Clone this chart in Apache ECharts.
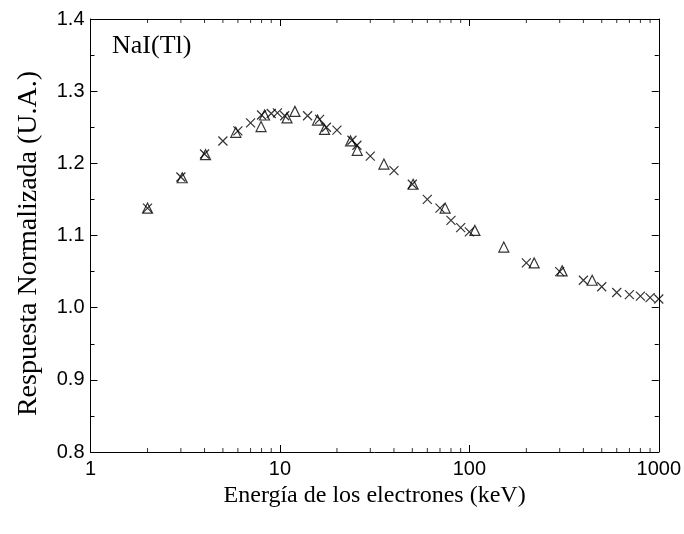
<!DOCTYPE html>
<html>
<head>
<meta charset="utf-8">
<script src="https://cdn.jsdelivr.net/npm/echarts@6/dist/echarts.min.js"></script>
<style>
  html, body { margin: 0; padding: 0; background: #fff; }
  #chart { width: 684px; height: 534px; }
</style>
</head>
<body>
<div id="chart"></div>
<script>
// Normalized light response of NaI(Tl) versus electron energy (keV)
const crossPoints = [
  [2.0, 1.138], [3.0, 1.181], [4.0, 1.213], [5.0, 1.231], [6.0, 1.245],
  [7.0, 1.256], [8.0, 1.267], [9.0, 1.269], [9.7, 1.270], [10.6, 1.266],
  [14.0, 1.266], [16.2, 1.261], [17.6, 1.250], [20.0, 1.246], [24.0, 1.232],
  [25.5, 1.225], [30.0, 1.210], [40.0, 1.190], [50.0, 1.171], [60.0, 1.150],
  [70.0, 1.138], [80.0, 1.121], [90.0, 1.111], [100.0, 1.105], [200.0, 1.062],
  [300.0, 1.050], [400.0, 1.038], [500.0, 1.029], [600.0, 1.021], [700.0, 1.018],
  [800.0, 1.016], [900.0, 1.014], [1000.0, 1.012]
];
const trianglePoints = [
  [2.0, 1.138], [3.05, 1.180], [4.05, 1.212], [5.85, 1.243], [7.95, 1.251],
  [8.3, 1.267], [10.9, 1.263], [12.0, 1.272], [15.8, 1.260], [17.2, 1.247],
  [23.6, 1.231], [25.6, 1.218], [35.4, 1.199], [50.5, 1.171], [74.5, 1.138],
  [107, 1.107], [152, 1.084], [220, 1.062], [309, 1.051], [445, 1.038]
];
// log-decade minor tick positions on the energy axis
const minorTickValues = [2, 3, 4, 5, 6, 7, 8, 9, 20, 30, 40, 50, 60, 70, 80, 90,
  200, 300, 400, 500, 600, 700, 800, 900];
const xTickLabels = { 1: '1', 10: '10', 100: '100', 1000: '1000' };
const yTickLabels = { '0.8': '0.8', '0.9': '0.9', '1': '1.0', '1.1': '1.1', '1.2': '1.2', '1.3': '1.3', '1.4': '1.4' };

const serif = '"Liberation Serif", "Times New Roman", serif';
const sans = '"Liberation Sans", Arial, sans-serif';
const Y_MIN = 0.8, Y_MAX = 1.4;
const MINOR_LEN = 4;

const chart = echarts.init(document.getElementById('chart'), null, { renderer: 'canvas' });

const axisLine = { show: true, lineStyle: { color: '#000', width: 1 } };
const majorTick = { show: true, inside: true, length: 7, lineStyle: { color: '#000', width: 1 } };

// short inward tick marks drawn as thin rectangles at the frame edges
function minorTickSeries(yValue, direction) {
  return {
    type: 'scatter',
    silent: true,
    clip: false,
    z: 1,
    data: minorTickValues.map(v => [v, yValue]),
    symbol: 'rect',
    symbolSize: [1, MINOR_LEN],
    symbolOffset: [0, direction * MINOR_LEN / 2],
    itemStyle: { color: '#000' },
    emphasis: { disabled: true }
  };
}

chart.setOption({
  animation: false,
  backgroundColor: '#fff',
  title: {
    text: 'NaI(Tl)',
    left: 107,
    top: 28,
    textStyle: { fontFamily: serif, fontSize: 26, fontWeight: 'normal', color: '#000' }
  },
  grid: { left: 90.5, right: 24.5, top: 19, bottom: 82, containLabel: false },
  xAxis: [
    {
      type: 'log', logBase: 10, min: 1, max: 1000, position: 'bottom',
      name: 'Energía de los electrones (keV)', nameLocation: 'middle', nameGap: 22,
      nameTextStyle: { fontFamily: serif, fontSize: 24, color: '#000' },
      axisLine: axisLine,
      axisTick: majorTick,
      axisLabel: {
        fontFamily: sans, fontSize: 20, color: '#000', margin: 7,
        formatter: v => xTickLabels[Math.round(v)] || String(Math.round(v))
      },
      splitLine: { show: false }
    },
    {
      type: 'log', logBase: 10, min: 1, max: 1000, position: 'top',
      axisLine: axisLine,
      axisTick: majorTick,
      axisLabel: { show: false },
      splitLine: { show: false }
    }
  ],
  yAxis: [
    {
      type: 'value', min: Y_MIN, max: Y_MAX, interval: 0.1, position: 'left',
      name: 'Respuesta Normalizada (U.A.)', nameLocation: 'middle', nameGap: 48,
      nameTextStyle: { fontFamily: serif, fontSize: 28, color: '#000', padding: [0, 16, 0, 0] },
      axisLine: axisLine,
      axisTick: majorTick,
      minorTick: { show: true, splitNumber: 2, length: 4, lineStyle: { color: '#000' } },
      axisLabel: {
        fontFamily: sans, fontSize: 20, color: '#000', margin: 6,
        formatter: v => yTickLabels[String(Math.round(v * 10) / 10)] || v.toFixed(1)
      },
      splitLine: { show: false }
    },
    {
      type: 'value', min: Y_MIN, max: Y_MAX, interval: 0.1, position: 'right',
      axisLine: axisLine,
      axisTick: majorTick,
      minorTick: { show: true, splitNumber: 2, length: 4, lineStyle: { color: '#000' } },
      axisLabel: { show: false },
      splitLine: { show: false }
    }
  ],
  series: [
    minorTickSeries(Y_MIN, -1),
    minorTickSeries(Y_MAX, 1),
    {
      name: 'cruces',
      type: 'scatter',
      data: crossPoints,
      symbol: 'path://M0,0L10,10M10,0L0,10',
      symbolSize: 9,
      itemStyle: { color: 'none', borderColor: '#000', borderWidth: 1.2 }
    },
    {
      name: 'triángulos',
      type: 'scatter',
      data: trianglePoints,
      symbol: 'triangle',
      symbolSize: 10,
      itemStyle: { color: 'none', borderColor: '#000', borderWidth: 1.2 }
    }
  ]
});
</script>
</body>
</html>
